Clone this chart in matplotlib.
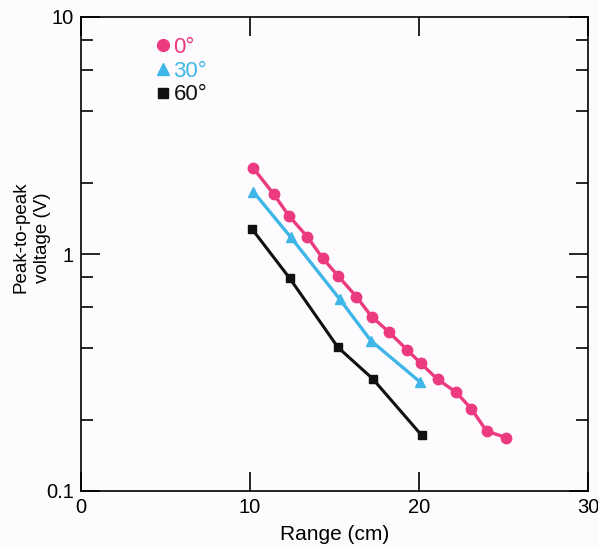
import matplotlib
matplotlib.use("Agg")
import matplotlib.pyplot as plt
from matplotlib.lines import Line2D

# ---- data ----
range_0 = [10.2, 11.4, 12.3, 13.4, 14.3, 15.2, 16.3, 17.2, 18.2, 19.3, 20.1, 21.1, 22.2, 23.1, 24.0, 25.15]
volt_0 = [2.30, 1.79, 1.45, 1.18, 0.96, 0.81, 0.66, 0.544, 0.47, 0.394, 0.346, 0.296, 0.261, 0.222, 0.179, 0.168]

range_30 = [10.2, 12.4, 15.3, 17.15, 20.05]
volt_30 = [1.83, 1.18, 0.646, 0.431, 0.289]

range_60 = [10.1, 12.35, 15.2, 17.25, 20.15]
volt_60 = [1.28, 0.79, 0.404, 0.298, 0.172]

labels = ["0°", "30°", "60°"]
pink = "#ec3a80"
cyan = "#3fb6e8"
black = "#111111"

plt.rcParams["font.family"] = ["Liberation Sans", "DejaVu Sans"]

fig = plt.figure(figsize=(5.98, 5.47), dpi=100, facecolor="#fdfbfd")
ax = fig.add_axes([81 / 598, 1 - 491 / 547, (588 - 81) / 598, (491 - 17) / 547])
ax.set_facecolor("#fdfbfd")

ax.plot(range_0, volt_0, color=pink, lw=2.4, marker="o", ms=7.5)
ax.plot(range_30, volt_30, color=cyan, lw=2.4, marker="^", ms=7.5)
ax.plot(range_60, volt_60, color=black, lw=2.2, marker="s", ms=6)

ax.set_yscale("log")
ax.set_xlim(0, 30)
ax.set_ylim(0.1, 10)
ax.set_xticks([0, 10, 20, 30])
ax.set_xticklabels(["0", "10", "20", "30"])
ax.set_yticks([0.1, 1, 10])
ax.set_yticklabels(["0.1", "1", "10"])
ax.set_yticks([0.2, 0.4, 0.6, 0.8, 2, 4, 6, 8], minor=True)
ax.set_yticklabels([], minor=True)

ax.tick_params(which="major", direction="in", length=13.5, width=1.2,
               top=True, right=True, pad=5, labelsize=14.5)
ax.tick_params(which="minor", direction="in", length=8.5, width=1.2,
               top=False, right=True)
for s in ax.spines.values():
    s.set_linewidth(1.2)

ax.set_xlabel("Range (cm)", fontsize=15, labelpad=6)
ax.set_ylabel("Peak-to-peak\nvoltage (V)", fontsize=13.5, linespacing=1.35)
ax.yaxis.set_label_coords(-0.06, 0.535)

handles = [
    Line2D([], [], color=pink, marker="o", ls="none", ms=8.5),
    Line2D([], [], color=cyan, marker="^", ls="none", ms=9),
    Line2D([], [], color=black, marker="s", ls="none", ms=7),
]
leg = ax.legend(handles, labels, loc="upper left", bbox_to_anchor=(0.11, 1.0),
                frameon=False, handlelength=0.6, handletextpad=0.15,
                labelspacing=0.12, fontsize=16, labelcolor=[pink, cyan, black])

fig.savefig("out.png", dpi=100, facecolor=fig.get_facecolor())
